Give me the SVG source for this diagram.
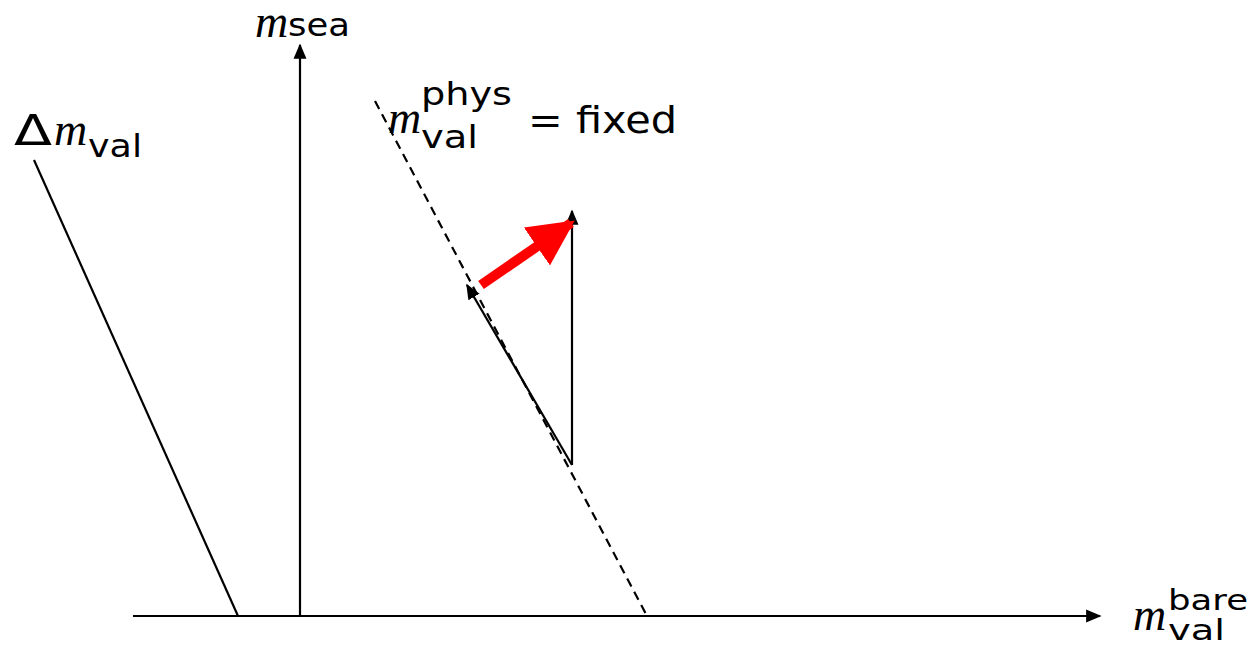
<svg xmlns="http://www.w3.org/2000/svg" width="1250" height="646" viewBox="0 0 1250 646">
<style>
.ln{stroke:#000;stroke-width:2.2;fill:none}
.ds{stroke:#000;stroke-width:2.2;fill:none;stroke-dasharray:9,6}
.mi{font-family:"Liberation Serif","DejaVu Serif",serif;font-style:italic;font-size:46px;fill:#000}
.sf{font-family:"DejaVu Sans","Liberation Sans",sans-serif;fill:#000}
.sb{font-size:32px}
.ss{font-size:28px}
</style>
<defs>
<marker id="ahb" viewBox="0 0 10 10" refX="9" refY="5" markerWidth="7" markerHeight="7" orient="auto">
<path d="M0,0.8L10,5L0,9.2Z" fill="#000"/>
</marker>
<marker id="ahr" viewBox="0 0 10 10" refX="9" refY="5" markerWidth="4.6" markerHeight="4.6" orient="auto">
<path d="M0,0L10,5L0,10Z" fill="#f00"/>
</marker>
</defs>
<g id="connectors">
<line class="ln" x1="133" y1="616" x2="1100" y2="616" marker-end="url(#ahb)"/>
<line class="ln" x1="300" y1="616" x2="300" y2="45" marker-end="url(#ahb)"/>
<line class="ln" x1="34" y1="160" x2="238" y2="616"/>
<line class="ds" x1="375" y1="101" x2="647" y2="616"/>
<line class="ln" x1="572" y1="465" x2="572" y2="211" marker-end="url(#ahb)"/>
<line class="ln" x1="572" y1="465" x2="467" y2="285" marker-end="url(#ahb)"/>
<line x1="481" y1="285" x2="571" y2="223" stroke="#f00" stroke-width="10" marker-end="url(#ahr)"/>
</g>
<g id="label-msea">
<text class="mi" x="255" y="37" font-size="43">m</text><text class="sf sb" x="288" y="36" textLength="62" lengthAdjust="spacingAndGlyphs">sea</text>
</g>
<g id="label-dmval">
<text class="sf" x="14" y="145" font-size="42" textLength="38" lengthAdjust="spacingAndGlyphs">Δ</text><text class="mi" x="54" y="145">m</text><text class="sf sb" x="88" y="157" textLength="54" lengthAdjust="spacingAndGlyphs">val</text>
</g>
<g id="label-phys">
<text class="mi" x="388" y="133">m</text><text class="sf sb" x="421" y="105" textLength="91" lengthAdjust="spacingAndGlyphs">phys</text><text class="sf sb" x="421" y="148" textLength="57" lengthAdjust="spacingAndGlyphs">val</text><text class="sf" x="528" y="133" font-size="38" textLength="149" lengthAdjust="spacingAndGlyphs">= fixed</text>
</g>
<g id="label-bare">
<text class="mi" x="1133" y="630">m</text><text class="sf ss" x="1168" y="610" textLength="80" lengthAdjust="spacingAndGlyphs">bare</text><text class="sf ss" x="1168" y="640" textLength="57" lengthAdjust="spacingAndGlyphs">val</text>
</g>
</svg>
